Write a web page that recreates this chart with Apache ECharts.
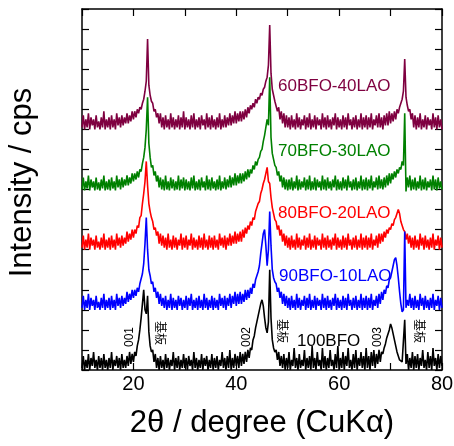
<!DOCTYPE html>
<html>
<head>
<meta charset="utf-8">
<script src="https://cdn.jsdelivr.net/npm/echarts@6/dist/echarts.min.js"></script>
<style>
  html, body { margin: 0; padding: 0; background: #fff; }
  #main { width: 454px; height: 446px; }
</style>
</head>
<body>
<div id="main"></div>
<script>
// 2theta grid: 10..80 deg, 0.25 deg step (281 points per pattern)
var angleStart = 10, angleStep = 0.25;
var xTickLabels = [20, 40, 60, 80];

// 100BFO (offset 0)
var bfo100 = [
  0.1,0.7,0.0,0.5,0.1,0.8,0.0,0.6,0.2,0.9,0.1,0.5,0.0,0.7,0.1,0.6,0.0,0.8,0.1,0.5,
  0.0,0.6,0.1,0.9,0.0,0.5,0.2,0.7,0.1,0.6,0.0,0.8,0.1,0.5,0.1,0.7,0.2,0.9,0.3,0.8,
  0.4,0.9,0.7,1.2,1.5,2.0,2.6,3.3,4.0,3.0,2.8,3.7,1.9,1.2,0.9,1.0,0.4,0.8,0.1,0.6,
  0.0,0.7,0.1,0.5,0.0,0.8,0.1,0.6,0.0,0.5,0.2,0.9,0.0,0.6,0.1,0.7,0.0,0.5,0.1,0.8,
  0.1,0.6,0.0,0.7,0.2,0.5,0.0,0.9,0.1,0.6,0.0,0.5,0.1,0.8,0.0,0.6,0.2,0.7,0.0,0.5,
  0.1,0.8,0.0,0.6,0.1,0.7,0.0,0.5,0.2,0.9,0.1,0.6,0.0,0.7,0.1,1.0,0.0,0.6,0.1,0.8,
  0.2,0.7,0.1,0.9,0.2,0.8,0.3,0.9,0.4,1.0,0.6,1.1,1.0,1.5,1.7,2.1,2.4,2.7,3.0,3.3,
  3.5,3.2,2.6,2.1,1.85,2.4,5.0,2.6,1.5,1.1,0.9,1.0,0.5,0.9,0.2,0.7,0.1,0.8,0.0,0.6,
  0.1,0.9,0.0,0.5,0.2,1.1,0.1,0.6,0.0,0.8,0.1,0.5,0.2,1.0,0.0,0.6,0.1,0.7,0.0,1.2,
  0.1,0.6,0.0,0.9,0.2,0.5,0.0,1.1,0.1,0.7,0.0,0.6,0.1,1.0,0.2,0.5,0.0,0.8,0.1,1.2,
  0.0,0.6,0.1,0.9,0.0,0.7,0.2,1.1,0.1,0.5,0.0,0.8,0.1,1.0,0.0,0.6,0.2,0.9,0.1,0.7,
  0.0,1.1,0.1,0.7,0.0,0.9,0.2,1.0,0.1,0.8,0.3,1.0,0.4,0.9,0.8,1.1,1.3,1.6,1.8,2.0,
  2.3,2.1,1.8,1.5,1.2,0.9,0.7,0.5,0.5,0.4,0.4,2.5,0.3,0.8,0.0,0.6,0.1,0.9,0.0,0.7,
  0.1,0.8,0.0,0.6,0.2,1.0,0.1,0.5,0.0,0.9,0.1,0.7,0.0,1.1,0.2,0.6,0.0,0.8,0.1,0.7,
  0.2
];

// 90BFO-10LAO (offset 3)
var bfo90 = [
  3.1,3.7,3.0,3.5,3.1,3.8,3.0,3.6,3.2,3.5,3.0,3.7,3.1,3.4,3.0,3.6,3.1,3.8,3.0,3.5,
  3.1,3.6,3.0,3.7,3.1,3.5,3.0,3.8,3.2,3.6,3.1,3.7,3.2,3.6,3.3,3.9,3.4,3.8,3.5,4.0,
  3.6,4.0,3.7,4.1,3.9,4.3,4.3,4.8,5.3,6.3,7.6,6.0,5.0,4.7,4.3,4.4,3.9,4.1,3.6,3.9,
  3.3,3.8,3.2,3.6,3.1,3.7,3.0,3.5,3.1,3.8,3.0,3.6,3.1,3.5,3.0,3.7,3.2,3.6,3.0,3.5,
  3.1,3.7,3.0,3.6,3.2,3.8,3.0,3.5,3.1,3.6,3.0,3.7,3.1,3.5,3.0,3.8,3.1,3.6,3.0,3.5,
  3.1,3.7,3.0,3.6,3.1,3.5,3.0,3.8,3.2,3.6,3.1,3.7,3.0,3.6,3.2,3.8,3.1,3.7,3.3,3.9,
  3.2,3.8,3.3,3.9,3.3,3.8,3.4,4.0,3.5,4.0,3.6,4.1,3.8,4.3,4.1,4.5,4.5,4.9,5.2,5.8,
  6.3,6.8,7.0,6.2,5.2,6.0,7.9,6.2,5.0,4.6,4.4,4.3,3.9,4.1,3.6,3.9,3.3,3.8,3.2,3.7,
  3.1,3.6,3.0,3.7,3.1,3.5,3.0,3.8,3.1,3.6,3.0,3.5,3.2,3.7,3.0,3.6,3.1,3.8,3.0,3.5,
  3.1,3.7,3.0,3.6,3.2,3.5,3.0,3.8,3.1,3.6,3.0,3.7,3.1,3.5,3.0,3.6,3.2,3.8,3.0,3.6,
  3.1,3.5,3.0,3.7,3.1,3.6,3.0,3.8,3.2,3.5,3.0,3.6,3.1,3.7,3.0,3.5,3.1,3.8,3.0,3.6,
  3.1,3.7,3.0,3.6,3.1,3.8,3.0,3.5,3.2,3.7,3.1,3.8,3.3,3.9,3.5,4.0,3.8,4.2,4.1,4.5,
  4.6,4.9,5.2,5.5,5.6,5.2,4.6,3.9,3.3,2.9,3.0,6.9,3.1,3.5,3.2,3.8,3.1,3.6,3.0,3.7,
  3.1,3.5,3.0,3.8,3.2,3.6,3.0,3.7,3.1,3.5,3.0,3.6,3.1,3.8,3.0,3.5,3.2,3.7,3.0,3.6,
  3.1
];

// 80BFO-20LAO (offset 6)
var bfo80 = [
  6.1,6.7,6.0,6.5,6.1,6.8,6.0,6.6,6.2,6.5,6.0,6.7,6.1,6.4,6.0,6.6,6.1,6.8,6.0,6.5,
  6.1,6.6,6.0,6.7,6.1,6.5,6.0,6.8,6.2,6.6,6.1,6.7,6.2,6.6,6.3,6.9,6.4,6.8,6.5,7.0,
  6.6,7.0,6.8,7.2,7.1,7.6,7.7,8.3,8.8,9.4,10.4,9.2,8.3,7.9,7.6,7.4,7.0,7.1,6.7,6.9,
  6.3,6.8,6.2,6.7,6.1,6.6,6.0,6.8,6.1,6.5,6.0,6.7,6.1,6.6,6.0,6.5,6.2,6.8,6.0,6.6,
  6.1,6.7,6.0,6.5,6.2,6.8,6.0,6.6,6.1,6.5,6.0,6.7,6.1,6.6,6.0,6.8,6.1,6.5,6.0,6.7,
  6.1,6.6,6.0,6.7,6.1,6.5,6.0,6.8,6.2,6.6,6.1,6.7,6.0,6.6,6.2,6.8,6.2,6.7,6.3,6.9,
  6.3,6.8,6.4,6.9,6.4,7.0,6.6,7.1,6.8,7.2,7.0,7.4,7.2,7.6,7.5,7.9,7.9,8.3,8.4,8.8,
  9.0,9.3,9.5,9.8,10.1,9.4,9.3,8.6,8.1,7.8,7.5,7.4,7.0,7.2,6.7,7.0,6.4,6.8,6.2,6.7,
  6.1,6.6,6.0,6.7,6.1,6.5,6.0,6.8,6.1,6.6,6.0,6.5,6.2,6.7,6.0,6.6,6.1,6.8,6.0,6.5,
  6.1,6.7,6.0,6.6,6.2,6.5,6.0,6.8,6.1,6.6,6.0,6.7,6.1,6.5,6.0,6.6,6.2,6.8,6.0,6.6,
  6.1,6.5,6.0,6.7,6.1,6.6,6.0,6.8,6.2,6.5,6.0,6.6,6.1,6.7,6.0,6.5,6.1,6.8,6.0,6.6,
  6.1,6.7,6.0,6.6,6.1,6.8,6.0,6.5,6.2,6.7,6.1,6.8,6.3,6.8,6.4,6.9,6.6,7.0,6.8,7.1,
  7.0,7.3,7.2,7.5,7.6,7.8,8.0,7.8,7.4,7.2,7.0,6.9,6.5,6.8,6.3,6.7,6.1,6.6,6.0,6.7,
  6.1,6.5,6.0,6.8,6.2,6.6,6.0,6.7,6.1,6.5,6.0,6.6,6.1,6.8,6.0,6.5,6.2,6.7,6.0,6.6,
  6.1
];

// 70BFO-30LAO (offset 9)
var bfo70 = [
  9.0,9.6,8.95,9.4,9.05,9.7,8.95,9.5,9.1,9.4,8.95,9.6,9.0,9.35,8.95,9.5,9.05,9.7,8.95,9.4,
  9.0,9.5,8.95,9.6,9.05,9.4,8.95,9.7,9.1,9.5,9.0,9.6,9.1,9.5,9.2,9.7,9.2,9.6,9.3,9.8,
  9.4,9.8,9.5,9.9,9.6,10.0,9.9,10.3,10.6,11.1,12.0,13.6,11.3,10.6,10.1,10.2,9.7,9.9,9.4,9.7,
  9.1,9.6,9.0,9.5,8.95,9.7,9.0,9.4,8.95,9.6,9.05,9.5,8.95,9.4,9.0,9.7,8.95,9.5,9.05,9.6,
  8.95,9.5,9.0,9.4,8.95,9.6,9.05,9.7,8.95,9.4,9.0,9.5,8.95,9.6,9.1,9.4,8.95,9.7,9.0,9.5,
  8.95,9.6,9.05,9.4,8.95,9.5,9.0,9.7,8.95,9.4,9.05,9.6,9.0,9.5,9.1,9.7,9.1,9.6,9.2,9.8,
  9.2,9.7,9.3,9.8,9.3,9.8,9.4,9.9,9.5,10.0,9.6,10.0,9.8,10.2,10.0,10.4,10.2,10.5,10.6,10.9,
  11.0,11.4,11.7,12.1,12.5,12.2,14.6,11.6,10.8,10.5,10.2,10.1,9.7,9.9,9.4,9.7,9.1,9.6,9.0,9.5,
  8.95,9.5,9.0,9.6,8.95,9.4,9.05,9.7,8.95,9.5,9.0,9.4,9.1,9.6,8.95,9.5,9.0,9.7,8.95,9.4,
  9.0,9.6,8.95,9.5,9.1,9.4,8.95,9.7,9.0,9.5,8.95,9.6,9.05,9.4,8.95,9.5,9.1,9.7,8.95,9.5,
  9.0,9.4,8.95,9.6,9.05,9.5,8.95,9.7,9.1,9.4,8.95,9.5,9.0,9.6,8.95,9.4,9.05,9.7,8.95,9.5,
  9.0,9.6,8.95,9.5,9.05,9.7,8.95,9.4,9.1,9.6,9.0,9.7,9.05,9.5,9.0,9.6,9.1,9.7,9.2,9.8,
  9.3,9.8,9.5,9.9,9.6,10.0,9.8,10.1,10.0,10.4,10.2,12.8,8.9,9.6,9.1,9.7,8.95,9.5,9.0,9.6,
  8.95,9.4,9.05,9.7,8.95,9.5,9.0,9.6,8.95,9.4,9.1,9.5,8.95,9.7,9.0,9.5,8.95,9.6,9.05,9.4,
  9.0
];

// 60BFO-40LAO (offset 12)
var bfo60 = [
  12.1,12.7,12.0,12.5,12.1,12.8,12.0,12.6,12.2,12.5,12.0,12.7,12.1,12.4,12.0,12.6,12.1,12.9,12.0,12.5,
  12.1,12.6,12.0,12.7,12.1,12.5,12.0,12.8,12.2,12.6,12.1,12.7,12.2,12.6,12.3,12.8,12.3,12.7,12.4,12.9,
  12.5,12.9,12.6,13.0,12.8,13.1,13.0,13.3,13.5,13.9,14.4,16.5,14.2,13.7,13.4,13.3,12.9,13.0,12.6,12.8,
  12.3,12.8,12.1,12.6,12.0,12.7,12.1,12.5,12.0,12.8,12.1,12.6,12.0,12.5,12.1,12.7,12.0,12.6,12.1,12.9,
  12.0,12.6,12.1,12.5,12.0,12.7,12.1,12.8,12.0,12.5,12.1,12.6,12.0,12.7,12.2,12.5,12.0,12.8,12.1,12.6,
  12.0,12.7,12.1,12.5,12.0,12.6,12.1,12.8,12.0,12.5,12.1,12.7,12.1,12.6,12.2,12.8,12.2,12.7,12.3,12.9,
  12.3,12.8,12.4,12.9,12.4,12.9,12.5,13.0,12.6,13.1,12.8,13.2,13.0,13.3,13.1,13.5,13.3,13.6,13.5,13.8,
  13.7,14.0,14.1,14.4,14.6,15.2,17.2,14.8,14.0,13.7,13.4,13.4,12.9,13.1,12.5,12.9,12.3,12.8,12.1,12.7,
  12.1,12.6,12.0,12.7,12.1,12.5,12.0,12.8,12.1,12.6,12.0,12.5,12.2,12.7,12.0,12.6,12.1,12.8,12.0,12.5,
  12.1,12.7,12.0,12.6,12.2,12.5,12.0,12.8,12.1,12.6,12.0,12.7,12.1,12.5,12.0,12.6,12.2,12.8,12.0,12.6,
  12.1,12.5,12.0,12.7,12.1,12.6,12.0,12.8,12.2,12.5,12.0,12.6,12.1,12.7,12.0,12.5,12.1,12.8,12.0,12.6,
  12.1,12.7,12.0,12.6,12.1,12.8,12.0,12.5,12.2,12.7,12.1,12.8,12.1,12.6,12.0,12.7,12.2,12.8,12.2,12.9,
  12.3,12.8,12.4,12.9,12.5,13.0,12.8,13.1,13.1,13.5,13.9,15.5,13.6,13.2,12.9,13.0,12.5,12.8,12.1,12.7,
  12.0,12.6,12.1,12.8,12.0,12.5,12.1,12.7,12.0,12.6,12.2,12.5,12.0,12.8,12.1,12.6,12.0,12.7,12.1,12.5,
  12.0
];

var seriesNames = ['60BFO-40LAO', '70BFO-30LAO', '80BFO-20LAO', '90BFO-10LAO', '100BFO'];
var seriesData = [bfo60, bfo70, bfo80, bfo90, bfo100];
var seriesColors = ['#7f0040', '#008000', '#ff0000', '#0000ff', '#000000'];

function toPoints(vals) {
  return vals.map(function (v, i) { return [angleStart + i * angleStep, v]; });
}

var font = '"Liberation Sans", Arial, "Noto Sans CJK JP", sans-serif';
var myChart = echarts.init(document.getElementById('main'), null, { renderer: 'canvas' });

var axisCommon = {
  axisLine: { show: true, onZero: false, lineStyle: { color: '#000', width: 1.5 } },
  axisTick: { show: true, inside: true, length: 7, lineStyle: { color: '#000', width: 1.2 } },
  splitLine: { show: false }
};

// sample labels: [text, x, y, rotation]
var peakNotes = [
  ['001', 130, 337, 1], ['基板', 159, 333, -1],
  ['002', 247, 337, 1], ['基板', 281, 331, -1],
  ['003', 378, 337, 1], ['基板', 418, 331, -1]
];
var nameSpots = [[278, 88], [278, 153], [278, 215], [279, 278], [297, 343]];

var graphics = [];
seriesNames.forEach(function (n, k) {
  graphics.push({
    type: 'text', left: nameSpots[k][0], top: nameSpots[k][1] - 10, z: 100,
    style: { text: n, fill: seriesColors[k], font: '17px ' + font }
  });
});
peakNotes.forEach(function (p) {
  graphics.push({
    type: 'text', x: p[1], y: p[2], rotation: p[3] * Math.PI / 2, z: 100,
    style: { text: p[0], fill: '#000', font: '12px ' + font, align: 'center', verticalAlign: 'middle' }
  });
});

myChart.setOption({
  animation: false,
  backgroundColor: '#fff',
  grid: { left: 82, right: 12, top: 9, bottom: 76, containLabel: false, outerBoundsMode: 'none' },
  xAxis: [
    Object.assign({
      type: 'value', min: 10, max: 80, interval: 10, position: 'bottom',
      name: '2θ / degree (CuKα)', nameLocation: 'middle', nameGap: 38,
      nameTextStyle: { fontFamily: font, fontSize: 31, color: '#000' },
      axisLabel: {
        fontFamily: font, fontSize: 20, color: '#000', margin: 4,
        formatter: function (v) { return xTickLabels.indexOf(v) >= 0 ? String(v) : ''; }
      }
    }, axisCommon),
    Object.assign({
      type: 'value', min: 10, max: 80, interval: 10, position: 'top',
      axisLabel: { show: false }
    }, axisCommon)
  ],
  yAxis: [
    Object.assign({
      type: 'value', min: 0, max: 18, interval: 1, position: 'left',
      name: 'Intensity / cps', nameLocation: 'middle', nameGap: 44,
      nameTextStyle: { fontFamily: font, fontSize: 31, color: '#000', padding: [0, 0, 0, 14] },
      axisLabel: { show: false }
    }, axisCommon),
    Object.assign({
      type: 'value', min: 0, max: 18, interval: 1, position: 'right',
      axisLabel: { show: false }
    }, axisCommon)
  ],
  series: seriesNames.map(function (n, k) {
    return {
      name: n, type: 'line', xAxisIndex: 0, yAxisIndex: 0,
      data: toPoints(seriesData[k]),
      showSymbol: false, symbol: 'none',
      lineStyle: { color: seriesColors[k], width: 1.6, join: 'bevel' },
      emphasis: { disabled: true }
    };
  }),
  graphic: graphics
});
</script>
</body>
</html>
